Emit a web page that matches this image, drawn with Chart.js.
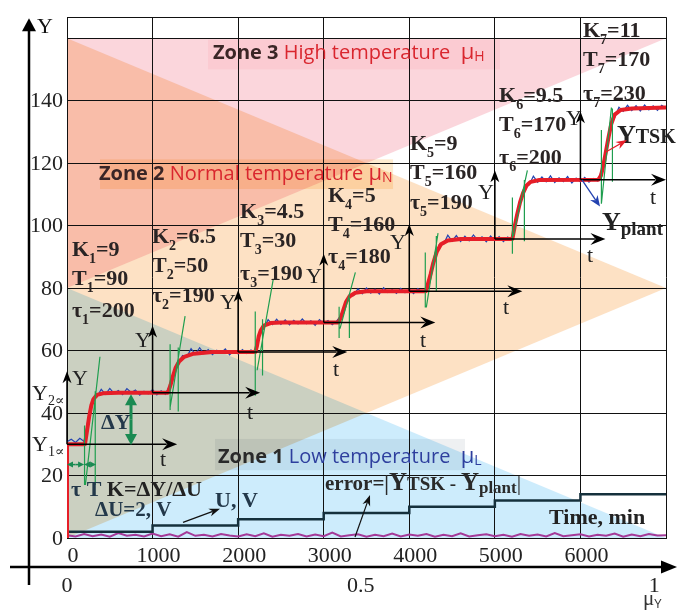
<!DOCTYPE html>
<html><head><meta charset="utf-8">
<script src="https://cdn.jsdelivr.net/npm/chart.js@4.4.1/dist/chart.umd.min.js"></script>
<style>html,body{margin:0;padding:0;background:#fff;}#wrap{width:689px;height:616px;}</style>
</head><body><div id="wrap"><canvas id="c" width="689" height="616"></canvas></div>
<script>
// ---------------- DATA ----------------
const xGrid = [0,1000,2000,3000,4000,5000,6000,7000];
const xTickLabels = [0,1000,2000,3000,4000,5000,6000];
const yMax = 166.7;
const yGrid = [0,20,40,60,80,100,120,140,160,166.7];
const yTickLabels = [0,20,40,60,80,100,120,140];
const muTicks = [0,0.5,1];

// Y_TSK (red, smooth model response)
const tskTime = [0,0,210,235,260,285,310,350,420,600,1180,1210,1240,1270,1310,1370,1480,1700,2200,2220,2240,2265,2300,2380,2500,3170,3200,3230,3260,3300,3370,3500,4195,4220,4250,4280,4320,4370,4450,4600,5205,5230,5260,5295,5330,5370,5420,5520,6210,6240,6270,6300,6330,6360,6400,6470,6600,7000];
const tskY = [0,30,30,34.5,39,42.5,44.5,45.8,46.3,46.5,46.5,49,52,54.5,56.5,58,59,59.5,59.5,61.5,64.5,66.5,68,68.8,69,69,70.5,73,75.5,77.3,78.5,79,79,81.5,84.5,88,91.5,94,95.2,95.7,95.7,99.5,103.5,107.5,110.5,112.8,114,114.6,114.7,116,119.5,124,128.5,132.5,135.5,137,137.5,137.8];

// Y_plant (blue, measured) sampled every 50 min
const plantStep = 50;
const plantY = [
 30.8,31.6,30.6,31.9,30.9,38.5,44.6,45.2,47.6,46.0,47.9,46.3,47.2,45.9,47.8,46.6,47.4,45.7,47.0,46.2,
 47.5,45.8,47.1,46.0,48.9,53.6,55.5,58.4,57.9,60.6,58.8,60.9,59.0,60.3,58.7,60.1,59.2,60.5,58.6,59.9,
 58.9,60.3,59.1,60.2,59.4,65.9,67.0,69.9,68.3,70.0,68.4,69.8,68.2,69.7,68.5,70.1,68.6,69.5,68.1,69.9,
 68.7,69.6,68.3,69.4,71.2,74.1,77.9,77.6,79.8,78.2,80.0,78.4,79.7,78.1,80.1,78.6,79.5,78.3,79.9,78.5,
 79.7,78.2,79.8,78.7,79.6,85.6,89.4,93.9,94.0,96.9,95.0,96.8,94.9,96.6,95.1,97.0,95.3,96.4,94.8,96.7,
 95.2,96.5,94.9,96.3,95.4,103.0,107.3,112.0,113.0,115.8,113.9,115.6,114.0,115.9,113.8,115.3,114.1,115.7,113.6,115.2,
 114.0,115.4,113.9,115.1,114.3,117.8,123.4,131.8,134.6,137.9,136.6,138.5,136.8,138.4,136.7,138.6,137.0,138.3,136.9,138.5,
 137.6];

// U, V (control voltage steps)
const uTime = [0,1000,2000,3000,4000,5000,6000,7000];
const uVolt = [2,4,6,8,10,12,14,14];

// error = |Y_TSK - Y_plant| sampled every 100 min
const errStep = 100;
const errY = [0.9,0.5,1.3,0.6,1.1,0.4,1.6,0.7,1.0,0.5,1.4,0.6,1.2,0.4,1.9,0.7,1.0,0.5,1.3,0.8,
 0.5,1.2,0.6,1.5,0.4,1.0,0.7,1.3,0.5,1.1,0.6,1.7,0.5,0.9,1.2,0.4,1.0,0.6,1.4,0.5,
 1.1,0.7,1.3,0.4,1.0,0.6,1.5,0.5,0.9,1.2,0.6,1.0,0.4,1.3,0.7,1.1,0.5,1.6,0.6,0.9,
 1.2,0.5,1.0,0.7,1.4,0.4,1.1,0.6,1.3,0.8,0.9];

// tangent / delay construction lines (x1,y1,x2,y2)
const greenSegs = [
 [205,36,205,17],[215,17,385,58],[330,47,330,17],
 [1205,62,1205,41],[1205,41.8,1380,71],[1300,61,1300,40.5],
 [2200,72.5,2200,45.5],[2222,53.7,2409,82.6],[2285,70,2285,52],
 [3180,74,3180,64],[3190,67,3370,85],[3300,77,3300,64],
 [4187,91.4,4187,73.8],[4199,73.8,4336,97.6],[4316,96.7,4316,78.8],
 [5205,109,5205,91],[5216,96.7,5380,117.7],[5345,114.6,5345,95],
 [6245,130.6,6245,107],[6245,107,6362,137.8],[6374,137.5,6374,114]];

// fuzzy zones (triangles)
const zone3X=[0,0,7000], zone3Y=[80,160,160];
const zone2X=[0,0,7000], zone2Y=[160,0,80];
const zone1X=[0,0,7000], zone1Y=[80,0,0];

// stage parameters
const stageK = ['9','6.5','4.5','5','9','9.5','11'];
const stageT = ['90','50','30','160','160','170','170'];
const stageTau = ['200','190','190','180','190','200','230'];
const stageX = [0,1000,2000,3000,4000,5000,6000];
const stageLevel = [30,46.5,59.5,69,79,95.7,114.7];
const arrowTopY = [53.4,68,79.4,91,100.5,117.7,136.6];
const arrowEndX = [1287,2257,3275,4304,5321,6292,7000];

// ---------------- LAYOUT (annotation positions, in data units) ----------------
const paramX = [58,993,2022,3050,4008,5049,6030];
const paramKY = [90.4,94.5,102.4,107.7,124.3,139.7,160.4];
const paramTY = [81,85.1,93,98.3,114.9,130.3,151];
const paramTauY = [70.6,75.4,82.6,87.9,105.2,119.6,140.3];
const yLabPos = [[58,49],[795,61.2],[1788,73.2],[2793,81.6],[3775,92.6],[4803,108.6],[5832,132.2]];
const tLabPos = [[1087,22.9],[2104,38],[3109,51.8],[4125,61.2],[5095,71.6],[6077,88.2],[6813,107]];

const SERIF = "'Liberation Serif','DejaVu Serif',serif";
const SANS = "'Open Sans','Noto Sans',sans-serif";
const B = s => `bold ${s}px ${SERIF}`;
const N = s => `${s}px ${SERIF}`;

const tskData = tskTime.map((t,i)=>({x:t,y:tskY[i]}));
const plantData = plantY.map((v,i)=>({x:i*plantStep,y:v}));
const uData = uTime.map((t,i)=>({x:t,y:uVolt[i]}));
const errData = errY.map((v,i)=>({x:i*errStep,y:v}));
const greenData = [];
greenSegs.forEach(s=>{greenData.push({x:s[0],y:s[1]},{x:s[2],y:s[3]},{x:s[2],y:null});});

function head(c,x,y,a,color,hl,hw,notch){
  c.save();c.translate(x,y);c.rotate(a);c.fillStyle=color;c.beginPath();
  c.moveTo(0,0);c.lineTo(-hl,-hw);c.lineTo(-hl*(notch||1),0);c.lineTo(-hl,hw);c.closePath();c.fill();c.restore();
}
function arrow(c,x1,y1,x2,y2,color,lw,hl,hw,notch){
  const a=Math.atan2(y2-y1,x2-x1);
  c.strokeStyle=color;c.lineWidth=lw;c.beginPath();c.moveTo(x1,y1);
  c.lineTo(x2-Math.cos(a)*hl*0.7,y2-Math.sin(a)*hl*0.7);c.stroke();
  head(c,x2,y2,a,color,hl,hw,notch);
}
function runs(c,x,y,parts){
  c.textAlign='left';c.textBaseline='alphabetic';
  for(const p of parts){c.font=p.f;c.fillStyle=p.c||'#2a2424';c.fillText(p.t,x,y+(p.dy||0));x+=c.measureText(p.t).width+(p.sp||0);}
}

const zonePlugin = {
  id:'zones',
  beforeDraw(chart){
    const c=chart.ctx,a=chart.chartArea,X=v=>chart.scales.x.getPixelForValue(v),Y=v=>chart.scales.y.getPixelForValue(v);
    c.save();c.fillStyle='#fff';c.fillRect(0,0,chart.width,chart.height);
    c.beginPath();c.rect(a.left,a.top,a.right-a.left,a.bottom-a.top);c.clip();
    c.globalCompositeOperation='multiply';
    const poly=(xs,ys,col)=>{c.fillStyle=col;c.beginPath();xs.forEach((x,i)=>i?c.lineTo(X(x),Y(ys[i])):c.moveTo(X(x),Y(ys[i])));c.closePath();c.fill();};
    poly(zone3X,zone3Y,'rgb(251,214,220)');
    poly(zone2X,zone2Y,'rgb(253,225,196)');
    poly(zone1X,zone1Y,'rgb(205,236,252)');
    const box=(x1,y1,x2,y2,col)=>{c.fillStyle=col;c.fillRect(X(x1),Y(y1),X(x2)-X(x1),Y(y2)-Y(y1));};
    box(1648,159.5,5060,150,'rgb(255,242,244)');
    box(386,121.2,3810,111.7,'rgb(254,236,208)');
    box(1730,31.7,4651,21.7,'rgb(238,240,242)');
    c.restore();
  }
};

const annotPlugin = {
  id:'annot',
  afterDraw(chart){
    const c=chart.ctx,a=chart.chartArea,X=v=>chart.scales.x.getPixelForValue(v),Y=v=>chart.scales.y.getPixelForValue(v);
    c.save();
    // local coordinate arrows per stage
    stageX.forEach((sx,i)=>{
      arrow(c,X(sx),Y(stageLevel[i]),X(sx),Y(arrowTopY[i]),'#000',1.5,12,4.5,0.7);
      arrow(c,X(sx),Y(stageLevel[i]),X(arrowEndX[i]),Y(stageLevel[i]),'#000',1.5,15,6,0.65);
      c.font=N(22);c.fillStyle='#222';c.textAlign='left';
      c.fillText('Y',X(yLabPos[i][0]),Y(yLabPos[i][1]));
      c.fillText('t',X(tLabPos[i][0]),Y(tLabPos[i][1]));
      const n=String(i+1);
      runs(c,X(paramX[i]),Y(paramKY[i]),[{t:'K',f:B(22)},{t:n,f:B(14),dy:7},{t:'='+stageK[i],f:B(22)}]);
      runs(c,X(paramX[i]),Y(paramTY[i]),[{t:'T',f:B(22)},{t:n,f:B(14),dy:7},{t:'='+stageT[i],f:B(22)}]);
      runs(c,X(paramX[i]),Y(paramTauY[i]),[{t:'τ',f:B(22)},{t:n,f:B(14),dy:7},{t:'='+stageTau[i],f:B(22)}]);
    });
    // zone labels
    runs(c,X(1706),Y(153.2),[{t:'Zone 3 ',f:`bold 20px ${SANS}`,c:'#3a2626'},{t:'High temperature  ',f:`20px ${SANS}`,c:'#d9262e'},{t:'μ',f:`22px ${SANS}`,c:'#d9262e'},{t:'H',f:`14px ${SANS}`,c:'#d9262e',dy:2}]);
    runs(c,X(374),Y(114.6),[{t:'Zone 2 ',f:`bold 20px ${SANS}`,c:'#3a2626'},{t:'Normal temperature ',f:`20px ${SANS}`,c:'#d9262e'},{t:'μ',f:`22px ${SANS}`,c:'#d9262e'},{t:'N',f:`14px ${SANS}`,c:'#d9262e',dy:2}]);
    runs(c,X(1765),Y(23.9),[{t:'Zone 1 ',f:`bold 20px ${SANS}`,c:'#2a2a2a'},{t:'Low temperature  ',f:`20px ${SANS}`,c:'#2e3f9e'},{t:'μ',f:`22px ${SANS}`,c:'#2e3f9e'},{t:'L',f:`14px ${SANS}`,c:'#2e3f9e',dy:2}]);
    // Delta Y and tau/T construction
    arrow(c,X(748),Y(38),X(748),Y(46),'#1a8a52',3,11,6,1);
    arrow(c,X(748),Y(38),X(748),Y(29.8),'#1a8a52',3,11,6,1);
    const gy=Y(23.5);
    arrow(c,X(100),gy,X(0),gy,'#1a8a52',1.5,6,3,1);arrow(c,X(100),gy,X(200),gy,'#1a8a52',1.5,6,3,1);
    arrow(c,X(270),gy,X(200),gy,'#1a8a52',1.5,6,3,1);arrow(c,X(270),gy,X(340),gy,'#1a8a52',1.5,6,3,1);
    runs(c,X(397),Y(34.8),[{t:'ΔY',f:B(22),c:'#23384a'}]);
    runs(c,X(47),Y(13.5),[{t:'τ',f:B(22),c:'#23384a'},{t:' T ',f:B(22),c:'#23384a'},{t:'K=ΔY/ΔU',f:B(22),c:'#222'}]);
    runs(c,X(327),Y(7.2),[{t:'ΔU=2, V',f:B(21),c:'#23384a'}]);
    runs(c,X(1730),Y(10),[{t:'U, V',f:B(22),c:'#23384a'}]);
    arrow(c,X(1356),Y(5),X(1788),Y(9.4),'#111',1.2,11,4,0.7);
    runs(c,X(3015),Y(15.4),[{t:'error=|',f:B(21),c:'#2a2a2a'},{t:'Y',f:B(25),c:'#2a2a2a'},{t:'TSK - ',f:B(19),c:'#2a2a2a'},{t:'Y',f:B(25),c:'#2a2a2a'},{t:'plant',f:B(17),c:'#2a2a2a',dy:3},{t:'|',f:N(22),c:'#2a2a2a'}]);
    arrow(c,X(3366),Y(0.3),X(3541),Y(13.8),'#111',1.2,11,4,0.7);
    runs(c,X(5633),Y(4.4),[{t:'Time, min',f:B(22),c:'#222'}]);
    runs(c,X(6427),Y(126.5),[{t:'Y',f:B(26),c:'#222'},{t:'TSK',f:B(20),c:'#222'}]);
    arrow(c,X(6287),Y(123.4),X(6544),Y(127.4),'#e61e28',1.3,11,4,0.7);
    runs(c,X(6252),Y(98.6),[{t:'Y',f:B(26),c:'#222'},{t:'plant',f:B(19),c:'#222',dy:5}]);
    arrow(c,X(6018),Y(114.6),X(6229),Y(106.1),'#2342b0',1.3,11,4.5,0.7);
    // steady-state level labels
    const lx=a.left-35;
    runs(c,lx,Y(30)+7,[{t:'Y',f:N(22),c:'#222'},{t:'1∝',f:N(14),c:'#222',dy:5}]);
    runs(c,lx,Y(46.5)+7,[{t:'Y',f:N(22),c:'#222'},{t:'2∝',f:N(14),c:'#222',dy:5}]);
    // outer axes (Y and mu_Y)
    const ox=a.left-38, hy=chart.scales.x2.top;
    c.strokeStyle='#000';c.lineWidth=2.5;
    c.beginPath();c.moveTo(ox,chart.height-31);c.lineTo(ox,a.top+10);c.stroke();
    head(c,ox,a.top+1,-Math.PI/2,'#000',13,7,1);
    c.beginPath();c.moveTo(10,hy);c.lineTo(664,hy);c.stroke();
    head(c,677,hy,0,'#000',16,6.5,1);
    runs(c,ox+8,a.top+16,[{t:'Y',f:N(22),c:'#111'}]);
    runs(c,643,605,[{t:'μ',f:N(21),c:'#333'},{t:'Y',f:`13px ${SANS}`,c:'#333',dy:3}]);
    c.restore();
  }
};

new Chart(document.getElementById('c'),{
  type:'scatter',
  data:{datasets:[
    {label:'construction',data:greenData,showLine:true,spanGaps:false,borderColor:'#1f9e4f',borderWidth:1.2,pointRadius:0},
    {label:'Y_TSK',data:tskData,showLine:true,borderColor:'#e61e28',borderWidth:4,pointRadius:0,borderJoinStyle:'round'},
    {label:'Y_plant',data:plantData,showLine:true,borderColor:'#2342b0',borderWidth:1.2,pointRadius:0},
    {label:'U, V',data:uData,showLine:true,stepped:'before',borderColor:'#15303c',borderWidth:2.5,pointRadius:0},
    {label:'error',data:errData,showLine:true,borderColor:'#a43a98',borderWidth:2,pointRadius:0}
  ]},
  options:{
    responsive:false,animation:false,events:[],
    layout:{padding:{left:0,right:23,top:7,bottom:0}},
    plugins:{legend:{display:false},tooltip:{enabled:false}},
    scales:{
      x:{type:'linear',position:'bottom',min:0,max:7000,
        afterBuildTicks:s=>{s.ticks=xGrid.map(v=>({value:v}));},
        afterFit:s=>{s.height=29;},
        grid:{color:'#111',lineWidth:1,drawTicks:false},border:{display:true,color:'#111',width:1},
        ticks:{callback:v=>xTickLabels.includes(v)?String(v):'',font:{family:SERIF,size:22},color:'#222',padding:5,labelOffset:6,maxRotation:0,autoSkip:false}},
      x2:{type:'linear',axis:'x',position:'bottom',min:0,max:1.02,
        afterBuildTicks:s=>{s.ticks=muTicks.map(v=>({value:v}));},
        afterFit:s=>{s.height=49;},
        grid:{display:false,drawTicks:false},border:{display:false},
        ticks:{callback:v=>String(v),font:{family:SERIF,size:22},color:'#222',padding:6,maxRotation:0,autoSkip:false}},
      y:{type:'linear',min:0,max:yMax,
        afterBuildTicks:s=>{s.ticks=yGrid.map(v=>({value:v}));},
        afterFit:s=>{s.width=67;},
        grid:{color:'#111',lineWidth:1,drawTicks:false},border:{display:true,color:'#111'},
        ticks:{callback:v=>yTickLabels.includes(v)?String(v):'',font:{family:SERIF,size:22},color:'#222',padding:4,labelOffset:1,autoSkip:false}}
    }
  },
  plugins:[zonePlugin,annotPlugin]
});
</script></body></html>
